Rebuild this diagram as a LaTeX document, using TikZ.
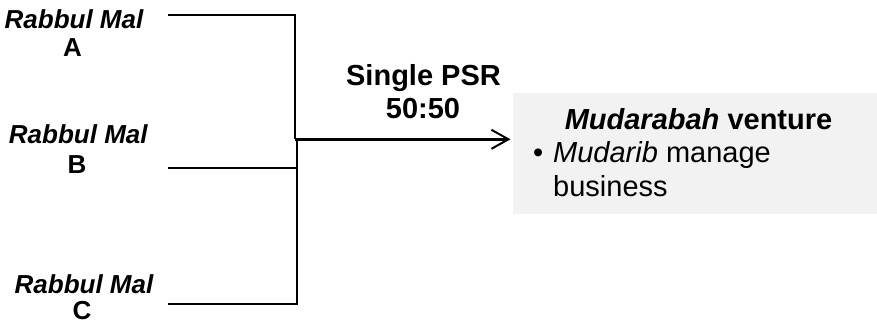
\documentclass[tikz,border=0pt]{standalone}
\usepackage{fontspec}
\setmainfont{Liberation Sans}
\usetikzlibrary{arrows.meta}
\definecolor{boxgray}{HTML}{F2F2F2}
\begin{document}
\begin{tikzpicture}[x=1pt,y=-1pt,
  lbl/.style={inner sep=0pt, anchor=base, font=\fontsize{26}{30}\selectfont\bfseries\itshape},
  lblb/.style={inner sep=0pt, anchor=base, font=\fontsize{26}{30}\selectfont\bfseries},
  psr/.style={inner sep=0pt, anchor=base, font=\fontsize{29}{33}\selectfont\bfseries},
  boxtxt/.style={inner sep=0pt, anchor=base west, font=\fontsize{29}{33}\selectfont},
  venture/.style={fill=boxgray, draw=none, inner sep=0pt, minimum width=364pt, minimum height=120.7pt},
  wire/.style={line width=1.8pt},
  flow/.style={line width=2.6pt, -{Straight Barb[length=17pt,width=19pt,line width=2pt]}}
]
\useasboundingbox (0,0) rectangle (877,325);

% venture box
\node[venture] (box) at (695,153.65) {};
\node[inner sep=0pt, anchor=base, font=\fontsize{29}{33}\selectfont\bfseries] (title) at (698.5,129) {\textit{Mudarabah} venture};
\node[boxtxt] (bul) at (533,162) {•};
\node[boxtxt] (l1) at (553,162) {\textit{Mudarib} manage};
\node[boxtxt] (l2) at (553,196) {business};

% investors
\node[lbl]  (ra1) at (74,28.3)   {Rabbul Mal};
\node[lblb] (ra2) at (72.5,56.7) {A};
\node[lbl]  (rb1) at (78.3,143.3) {Rabbul Mal};
\node[lblb] (rb2) at (77,173.3)  {B};
\node[lbl]  (rc1) at (84,293.3)  {Rabbul Mal};
\node[lblb] (rc2) at (82,319.5)  {C};

% PSR label
\node[psr] (psr1) at (423.5,85)  {Single PSR};
\node[psr] (psr2) at (423,118.3) {50:50};

% connectors
\coordinate (a0) at (168,15);
\coordinate (b0) at (168,167.7);
\coordinate (c0) at (168,304.3);
\coordinate (j)  at (295.3,139.3);
\coordinate (j2) at (297,139.3);

\draw[wire] (a0) -| (j);
\draw[wire] (c0) -| (j2);
\draw[wire] (b0) -- (b0 -| j2);
\draw[flow, shorten >=2.3pt] (j) -- (j -| box.west);
\end{tikzpicture}
\end{document}
